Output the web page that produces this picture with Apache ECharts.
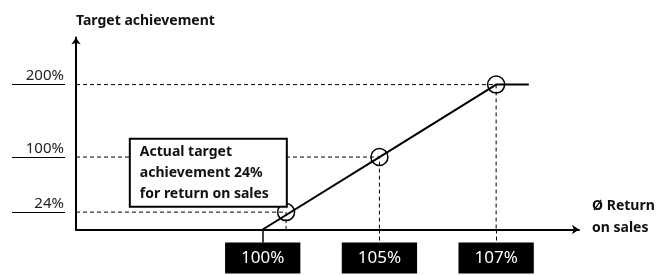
<!DOCTYPE html>
<html>
<head>
<meta charset="utf-8">
<script src="https://cdn.jsdelivr.net/npm/echarts@6/dist/echarts.min.js"></script>
<style>
    html, body { margin: 0; padding: 0; background: #fff; }
    #chart { width: 658px; height: 275px; }
</style>
</head>
<body>
<div id="chart"></div>
<script>
// 数据
// x 轴是示意刻度: 100% / 105% / 107% 等距排列
const returnLabels = ['100%', '105%', '107%']
const returnSteps = [0, 1, 2]
const targetValues = [0, 100, 200]
// 107% 之后目标达成封顶
const capStep = 2.28
// 实际结果
const actualStep = 0.2
const actualValue = 24
// 左侧刻度
const yTicks = [24, 100, 200]

const xMin = -1.6
const xMax = 2.71
const yMax = 265

;(function () {
    const chart = echarts.init(document.getElementById('chart'))

    // 折线: 起点 -> 105% -> 107% -> 封顶
    const curve = returnSteps.map((s, i) => [s, targetValues[i]])
    curve.push([capStep, targetValues[targetValues.length - 1]])

    // 圆圈: 实际值 + 105% + 107%
    const circles = [[actualStep, actualValue]]
    returnSteps.forEach((s, i) => {
        if (targetValues[i] > 0) circles.push([s, targetValues[i]])
    })

    // 虚线辅助线: 从 y 轴到圆圈再到 x 轴
    const guides = circles.map((p) => ({
        type: 'line',
        data: [[xMin, p[1]], [p[0], p[1]], [p[0], 0]],
        symbol: 'none',
        silent: true,
        z: 1,
        lineStyle: { color: '#000', width: 1, type: [4, 3] },
    }))

    let option = {
        animation: false,
        textStyle: { fontFamily: 'Noto Sans' },
        grid: { left: 76, right: 79, top: 37.5, bottom: 45.5 },
        xAxis: [
            {
                type: 'value',
                position: 'bottom',
                min: xMin,
                max: xMax,
                splitLine: { show: false },
                axisLine: {
                    onZero: false,
                    symbol: ['none', 'arrow'],
                    symbolSize: [7, 7],
                    lineStyle: { color: '#000', width: 2 },
                },
                axisTick: {
                    show: true,
                    customValues: [1, 2],
                    length: 12,
                    lineStyle: { color: '#000', width: 1, type: [4, 3] },
                },
                axisLabel: {
                    customValues: returnSteps,
                    formatter: (v) => returnLabels[returnSteps.indexOf(v)] || '',
                    margin: 13,
                    color: '#fff',
                    fontSize: 17,
                    fontFamily: 'Noto Sans',
                    backgroundColor: '#000',
                    lineHeight: 21,
                    padding: [5, 16, 5, 16],
                },
                name: '{a|Ø Return}\n{a|on sales}\n{s| }',
                nameLocation: 'end',
                nameGap: 13,
                nameTextStyle: {
                    align: 'left',
                    verticalAlign: 'middle',
                    rich: {
                        a: {
                            fontFamily: 'Noto Sans',
                            fontWeight: 'bold',
                            fontSize: 14,
                            lineHeight: 22,
                            color: '#111',
                        },
                        s: { fontSize: 10, lineHeight: 24 },
                    },
                },
            },
            {
                // 100% 下方的实线连接
                type: 'value',
                position: 'bottom',
                min: xMin,
                max: xMax,
                splitLine: { show: false },
                axisLine: { show: false, onZero: false },
                axisLabel: { show: false },
                axisTick: {
                    show: true,
                    customValues: [0],
                    length: 13,
                    lineStyle: { color: '#000', width: 1.5 },
                },
            },
        ],
        yAxis: [
            {
                type: 'value',
                position: 'left',
                min: 0,
                max: yMax,
                splitLine: { show: false },
                axisTick: { show: false },
                axisLabel: { show: false },
                axisLine: {
                    onZero: false,
                    symbol: ['none', 'arrow'],
                    symbolSize: [7, 7],
                    lineStyle: { color: '#000', width: 2 },
                },
                name: 'Target achievement',
                nameLocation: 'end',
                nameGap: 9,
                nameTextStyle: {
                    fontFamily: 'Noto Sans',
                    color: '#111',
                    fontWeight: 'bold',
                    fontSize: 14,
                    align: 'left',
                },
            },
            {
                // 刻度文字 + 下划线
                type: 'value',
                position: 'left',
                offset: 11,
                min: 0,
                max: yMax,
                splitLine: { show: false },
                axisLine: { show: false, onZero: false },
                axisTick: {
                    show: true,
                    customValues: yTicks,
                    length: 53,
                    lineStyle: { color: '#000', width: 1 },
                },
                axisLabel: {
                    customValues: yTicks,
                    formatter: '{value}%',
                    margin: 1,
                    fontSize: 15,
                    color: '#222',
                    verticalAlign: 'bottom',
                    lineHeight: 17,
                },
            },
        ],
        series: [
            ...guides,
            {
                name: 'curve',
                type: 'line',
                data: curve,
                symbol: 'none',
                z: 3,
                lineStyle: { color: '#000', width: 2 },
            },
            {
                name: 'points',
                type: 'scatter',
                symbol: 'circle',
                symbolSize: 17,
                z: 4,
                itemStyle: { color: 'rgba(0,0,0,0)', borderColor: '#000', borderWidth: 1.5, opacity: 1 },
                data: circles.map((p, i) =>
                    i === 0
                        ? {
                              value: p,
                              label: {
                                  show: true,
                                  position: [-146, 3],
                                  align: 'left',
                                  verticalAlign: 'bottom',
                                  formatter: 'Actual target\nachievement ' + actualValue + '%\nfor return on sales',
                                  fontFamily: 'Noto Sans',
                                  fontWeight: 'bold',
                                  fontSize: 14,
                                  lineHeight: 21,
                                  color: '#111',
                                  width: 126,
                                  backgroundColor: '#fff',
                                  borderColor: '#000',
                                  borderWidth: 2,
                                  padding: [2, 20, 1, 9],
                              },
                          }
                        : p
                ),
            },
        ],
    }

    chart.setOption(option)
})()
</script>
</body>
</html>
